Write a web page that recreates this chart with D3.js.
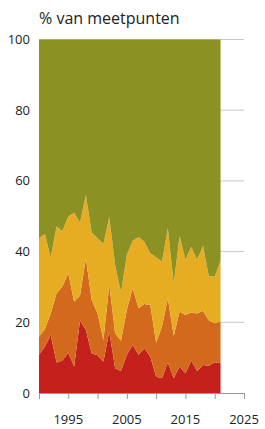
<!DOCTYPE html>
<html>
<head>
<meta charset="utf-8">
<script src="https://cdn.jsdelivr.net/npm/d3@7"></script>
<style>
  body { margin: 0; background: #fff; }
  text { font-family: "Open Sans", sans-serif; }
</style>
</head>
<body>
<svg id="chart" width="265" height="429"></svg>
<script>
// years of measurement
var years = d3.range(1990, 2022);

// share of measuring points per class (%), bottom to top
var red = [10.8, 13.1, 16.4, 8.6, 9.2, 11.4, 7.5, 20.5, 17.8, 11.2, 10.7, 8.9, 17.4, 7.0, 6.2, 10.8,
  13.6, 10.8, 12.6, 10.3, 4.6, 4.2, 8.6, 4.2, 7.5, 5.6, 9.2, 6.2, 7.9, 7.7, 8.7, 8.4];
var orange = [5.1, 4.9, 6.0, 19.6, 20.9, 22.5, 18.3, 7.0, 20.3, 15.1, 11.8, 6.1, 13.2, 9.9, 8.6, 12.7,
  16.0, 13.2, 12.6, 14.6, 9.6, 14.6, 18.2, 11.9, 15.5, 16.5, 13.6, 16.3, 15.4, 12.8, 11.0, 11.8];
var yellow = [27.9, 27.0, 16.0, 18.9, 15.7, 16.0, 25.2, 20.7, 17.9, 19.1, 21.3, 27.2, 19.1, 19.3, 13.6, 15.6,
  13.5, 20.1, 17.6, 14.6, 24.2, 18.4, 19.8, 14.9, 21.4, 15.7, 18.6, 15.3, 18.3, 12.6, 13.2, 17.3];
var seriesKeys = ['red', 'orange', 'yellow', 'green'];
var seriesColors = ['#c4201c', '#d3691d', '#e6ad23', '#8c9123'];

var yTicks = [0, 20, 40, 60, 80, 100];
var xTicks = d3.range(1990, 2026, 5);
var xLabels = [1995, 2005, 2015, 2025];

var rows = years.map(function(y, i) {
  return {
    year: y,
    red: red[i],
    orange: orange[i],
    yellow: yellow[i],
    green: 100 - red[i] - orange[i] - yellow[i]
  };
});

var svg = d3.select('#chart');
var margin = { left: 39, right: 21, top: 39.5, bottom: 36 };
var width = 265 - margin.left - margin.right;
var height = 429 - margin.top - margin.bottom;

var x = d3.scaleLinear().domain([1990, 2025]).range([margin.left, margin.left + width]);
var y = d3.scaleLinear().domain([0, 100]).range([margin.top + height, margin.top]);

// gridlines
svg.append('g').selectAll('line')
  .data(yTicks.filter(function(d) { return d > 0; }))
  .enter()
  .append('line')
  .attr('x1', x(1990))
  .attr('x2', x(2025))
  .attr('y1', function(d) { return y(d); })
  .attr('y2', function(d) { return y(d); })
  .attr('stroke', '#c8c8c8')
  .attr('stroke-width', 1);

var stack = d3.stack().keys(seriesKeys);
var layers = stack(rows);

var area = d3.area()
  .x(function(d) { return x(d.data.year); })
  .y0(function(d) { return y(d[0]); })
  .y1(function(d) { return y(d[1]); });

svg.append('g').selectAll('path')
  .data(layers)
  .enter()
  .append('path')
  .attr('d', area)
  .attr('fill', function(d, i) { return seriesColors[i]; });

// x axis
var xAxis = svg.append('g')
  .attr('transform', 'translate(0,' + y(0) + ')')
  .call(d3.axisBottom(x).tickValues(xTicks).tickSize(6).tickFormat(''));
xAxis.select('.domain').attr('stroke', '#999');
xAxis.selectAll('.tick line').attr('stroke', '#999');

svg.append('g').selectAll('text')
  .data(xLabels)
  .enter()
  .append('text')
  .attr('x', function(d) { return x(d); })
  .attr('y', 424)
  .attr('text-anchor', 'middle')
  .attr('font-size', 13)
  .attr('fill', '#222')
  .text(function(d) { return d; });

// y labels
svg.append('g').selectAll('text')
  .data(yTicks)
  .enter()
  .append('text')
  .attr('x', 30)
  .attr('y', function(d) { return y(d) + 4.5; })
  .attr('text-anchor', 'end')
  .attr('font-size', 13)
  .attr('fill', '#222')
  .text(function(d) { return d; });

svg.append('text')
  .attr('x', 39)
  .attr('y', 24)
  .attr('font-size', 16)
  .attr('fill', '#222')
  .text('% van meetpunten');
</script>
</body>
</html>
